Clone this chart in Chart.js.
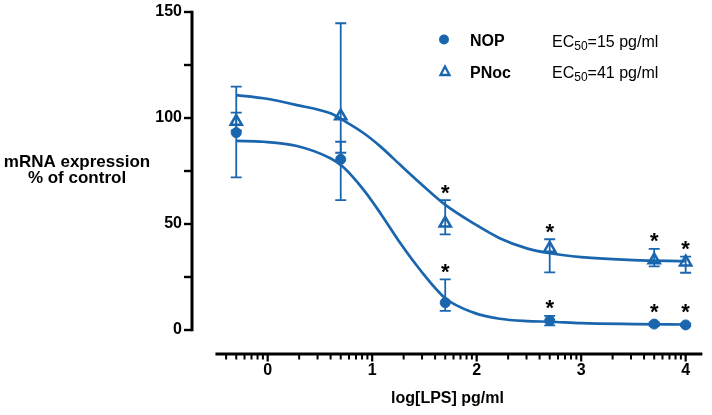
<!DOCTYPE html>
<html><head><meta charset="utf-8">
<script src="https://cdn.jsdelivr.net/npm/chart.js@4.4.1/dist/chart.umd.min.js"></script>
<style>html,body{margin:0;padding:0;background:#fff;}#wrap{width:712px;height:415px;position:relative;}</style>
</head><body><div id="wrap"><canvas id="c" width="712" height="415"></canvas></div>
<script>
// ---- data ----
const logDose   = [-0.301, 0.699, 1.699, 2.699, 3.699, 4.0];
const nopMean   = [93.1, 80.5, 12.9, 4.4, 2.8, 2.4];
const nopLow    = [72.0, 61.3, 9.0, 2.2, 2.0, 1.8];
const nopHigh   = [114.8, 88.8, 23.9, 6.7, 3.6, 3.0];
const pnocMean  = [98.3, 100.9, 50.3, 38.5, 33.0, 32.0];
const pnocLow   = [94.1, 83.6, 45.1, 27.2, 30.0, 27.0];
const pnocHigh  = [102.5, 144.7, 61.3, 42.8, 38.3, 34.6];
const nopSig    = [false, false, true, true, true, true];
const pnocSig   = [false, false, true, true, true, true];
const fitX      = [-0.3, -0.04, 0.28, 0.6, 0.72, 0.92, 1.08, 1.27, 1.46, 1.7, 1.97, 2.22, 2.48, 2.7, 3.0, 3.5, 4.0];
const pnocFit   = [110.8, 109.3, 106.1, 102.2, 99.0, 92.8, 86.5, 77.8, 69.2, 59.0, 50.3, 43.3, 38.5, 36.2, 34.4, 33.0, 32.5];
const nopFit    = [89.2, 88.8, 86.8, 81.0, 77.0, 66.0, 55.0, 40.9, 28.3, 15.0, 8.2, 5.3, 4.2, 3.9, 3.2, 2.8, 2.6];
const xMajorTicks = [0, 1, 2, 3, 4];
const xMinorFactors = [2, 3, 4, 5, 6, 7, 8, 9];
const xAxisRange = [-0.5, 4.16];
const yMajorTicks = [0, 50, 100, 150];
const yMinorTicks = [25, 75, 125];
const seriesNames = ['NOP', 'PNoc'];
const ec50Values = ['15', '41'];

const BLUE = '#1a66ae';
const FONT = '"Liberation Sans", Arial, sans-serif';

function pts(xs, ys) { return xs.map((x, i) => ({x: x, y: ys[i]})); }

const errSets = [
  {low: nopLow, high: nopHigh, mean: nopMean, sig: nopSig, r: 5},
  {low: pnocLow, high: pnocHigh, mean: pnocMean, sig: pnocSig, r: 6.5}
];

const extras = {
  id: 'extras',
  beforeDatasetsDraw(chart) {
    const ctx = chart.ctx, xs = chart.scales.x, ys = chart.scales.y;
    ctx.save();
    ctx.strokeStyle = BLUE; ctx.lineWidth = 1.8; ctx.lineCap = 'butt';
    errSets.forEach(s => {
      logDose.forEach((d, i) => {
        const x = xs.getPixelForValue(d);
        const yl = ys.getPixelForValue(s.low[i]);
        const yh = ys.getPixelForValue(s.high[i]);
        ctx.beginPath();
        ctx.moveTo(x, yh); ctx.lineTo(x, yl);
        ctx.moveTo(x - 5.5, yh); ctx.lineTo(x + 5.5, yh);
        ctx.moveTo(x - 5.5, yl); ctx.lineTo(x + 5.5, yl);
        ctx.stroke();
      });
    });
    ctx.restore();
  },
  afterDraw(chart) {
    const ctx = chart.ctx, xs = chart.scales.x, ys = chart.scales.y, ca = chart.chartArea;
    ctx.save();
    ctx.strokeStyle = '#000'; ctx.lineCap = 'butt';
    // y axis
    const ax = ca.left;
    ctx.lineWidth = 3;
    ctx.beginPath();
    ctx.moveTo(ax, ys.getPixelForValue(yMajorTicks[0]) + 1.2);
    ctx.lineTo(ax, ys.getPixelForValue(yMajorTicks[yMajorTicks.length - 1]) - 1.2);
    ctx.stroke();
    ctx.lineWidth = 2.4;
    yMajorTicks.concat(yMinorTicks).forEach(v => {
      const y = ys.getPixelForValue(v);
      ctx.beginPath(); ctx.moveTo(ax - 8, y); ctx.lineTo(ax, y); ctx.stroke();
    });
    // x axis
    const ay = ca.bottom;
    ctx.lineWidth = 3;
    ctx.beginPath();
    ctx.moveTo(xs.getPixelForValue(xAxisRange[0]), ay);
    ctx.lineTo(xs.getPixelForValue(xAxisRange[1]), ay);
    ctx.stroke();
    ctx.lineWidth = 2.2;
    xMajorTicks.forEach(v => {
      const x = xs.getPixelForValue(v);
      ctx.beginPath(); ctx.moveTo(x, ay); ctx.lineTo(x, ay + 7.5); ctx.stroke();
    });
    ctx.lineWidth = 2;
    for (let dec = -1; dec <= 4; dec++) {
      xMinorFactors.forEach(f => {
        const v = dec + Math.log10(f);
        if (v < xAxisRange[0] || v > xAxisRange[1]) return;
        const x = xs.getPixelForValue(v);
        ctx.beginPath(); ctx.moveTo(x, ay); ctx.lineTo(x, ay + 5.5); ctx.stroke();
      });
    }
    // significance stars
    ctx.fillStyle = '#000';
    ctx.font = 'bold 22px ' + FONT;
    ctx.textAlign = 'center';
    ctx.textBaseline = 'alphabetic';
    const m = ctx.measureText('*');
    const off = (m.actualBoundingBoxDescent - m.actualBoundingBoxAscent) / 2;
    errSets.forEach(s => {
      logDose.forEach((d, i) => {
        if (!s.sig[i]) return;
        const x = xs.getPixelForValue(d);
        const top = Math.min(ys.getPixelForValue(s.high[i]), ys.getPixelForValue(s.mean[i]) - 5);
        const cy = top - 11;
        ctx.fillText('*', x, cy - off);
      });
    });
    // legend
    ctx.textAlign = 'left';
    ctx.fillStyle = BLUE;
    ctx.beginPath(); ctx.arc(444, 39.5, 5, 0, Math.PI * 2); ctx.fill();
    ctx.strokeStyle = BLUE; ctx.lineWidth = 2.3;
    ctx.beginPath();
    ctx.moveTo(445, 66.5); ctx.lineTo(449.5, 75); ctx.lineTo(440.5, 75); ctx.closePath(); ctx.stroke();
    ctx.fillStyle = '#000';
    ctx.font = 'bold 16px ' + FONT;
    ctx.fillText(seriesNames[0], 470, 46);
    ctx.fillText(seriesNames[1], 470, 77.5);
    const drawEC = (val, x, y) => {
      ctx.font = '16px ' + FONT;
      ctx.fillText('EC', x, y);
      let w = ctx.measureText('EC').width;
      ctx.font = '12px ' + FONT;
      ctx.fillText('50', x + w, y + 3);
      w += ctx.measureText('50').width;
      ctx.font = '16px ' + FONT;
      ctx.fillText('=' + val + ' pg/ml', x + w, y);
    };
    drawEC(ec50Values[0], 552, 46.5);
    drawEC(ec50Values[1], 552, 78);
    // y axis title
    ctx.font = 'bold 17px ' + FONT;
    ctx.textAlign = 'center';
    ctx.fillText('mRNA expression', 77, 166.5);
    ctx.fillText('% of control', 77, 183);
    ctx.restore();
  }
};

new Chart(document.getElementById('c'), {
  type: 'scatter',
  data: {
    datasets: [
      {type: 'line', data: pts(fitX, nopFit), borderColor: BLUE, borderWidth: 2.7, pointRadius: 0, cubicInterpolationMode: 'monotone', fill: false},
      {type: 'line', data: pts(fitX, pnocFit), borderColor: BLUE, borderWidth: 2.7, pointRadius: 0, cubicInterpolationMode: 'monotone', fill: false},
      {data: pts(logDose, nopMean), showLine: false, pointStyle: 'circle', pointRadius: 5, pointBackgroundColor: BLUE, pointBorderColor: BLUE, pointBorderWidth: 1},
      {data: pts(logDose, pnocMean), showLine: false, pointStyle: 'triangle', pointRadius: 6.5, pointBackgroundColor: 'rgba(255,255,255,0)', pointBorderColor: BLUE, pointBorderWidth: 2.5}
    ]
  },
  options: {
    responsive: false,
    animation: false,
    devicePixelRatio: 1,
    layout: {padding: {top: 12, right: 9, left: 0, bottom: 0}},
    plugins: {legend: {display: false}, tooltip: {enabled: false}},
    scales: {
      x: {
        type: 'linear', min: -0.7244, max: 4.166,
        grid: {display: false, drawTicks: false}, border: {display: false},
        afterBuildTicks: s => { s.ticks = xMajorTicks.map(v => ({value: v})); },
        afterFit: s => { s.height = 61; },
        ticks: {color: '#000', font: {family: FONT, size: 16, weight: 'bold'}, padding: 7, maxRotation: 0, autoSkip: false},
        title: {display: true, text: 'log[LPS] pg/ml', color: '#000', font: {family: FONT, size: 16, weight: 'bold'}, padding: {top: 0, bottom: 7}}
      },
      y: {
        type: 'linear', min: -11.32, max: 150,
        grid: {display: true, drawOnChartArea: false, drawTicks: true, tickLength: 10, color: 'rgba(0,0,0,0)'}, border: {display: false},
        afterBuildTicks: s => { s.ticks = yMajorTicks.map(v => ({value: v})); },
        afterFit: s => { s.width = 192; },
        ticks: {color: '#000', font: {family: FONT, size: 16, weight: 'bold'}, padding: 0}
      }
    }
  },
  plugins: [extras]
});
</script></body></html>
